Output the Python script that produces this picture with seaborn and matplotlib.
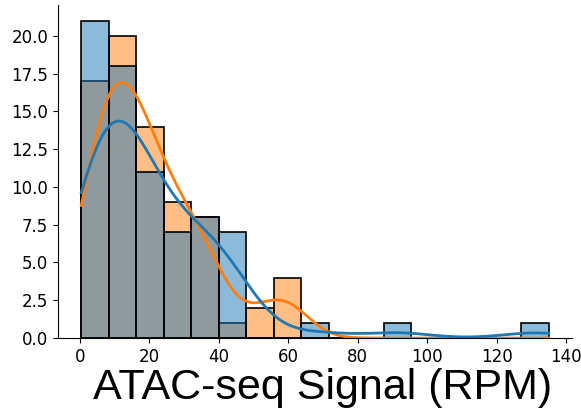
import numpy as np
import pandas as pd
import matplotlib
matplotlib.use("Agg")
import matplotlib.pyplot as plt
import seaborn as sns

# Bin layout: 17 equal bins from ~0.4 to ~135
bin_lo, bin_hi, n_bins = 0.4, 135.0, 17
# Counts per bin for the two groups
counts_a = [21, 18, 11, 7, 8, 7, 0, 0, 1, 0, 0, 1, 0, 0, 0, 0, 1]   # blue
counts_b = [17, 20, 14, 9, 8, 1, 2, 4, 0, 0, 0, 0, 0, 0, 0, 0, 0]   # orange
group_names = ["A", "B"]
xlabel = "ATAC-seq Signal (RPM)"

edges = np.linspace(bin_lo, bin_hi, n_bins + 1)
centers = (edges[:-1] + edges[1:]) / 2
xa = np.repeat(centers, counts_a)
xb = np.repeat(centers, counts_b)
df = pd.DataFrame({
    "x": np.concatenate([xa, xb]),
    "g": [group_names[0]] * len(xa) + [group_names[1]] * len(xb),
})

fig = plt.figure(figsize=(5.81, 4.15), dpi=100)
ax = fig.add_axes([0.0998, 0.1855, 0.8847, 0.8025])
sns.histplot(data=df, x="x", hue="g", hue_order=group_names,
             bins=n_bins, binrange=(bin_lo, bin_hi), kde=True, legend=False, ax=ax,
             edgecolor="black", linewidth=1.2,
             kde_kws={"cut": 3, "clip": (bin_lo, bin_hi), "bw_adjust": 1.06},
             line_kws={"linewidth": 2})
sns.despine(ax=ax)
ax.set_ylabel("")
ax.set_xlabel(xlabel, fontsize=31, family="Liberation Sans")
ax.xaxis.set_label_coords(0.5146, -0.09, transform=ax.transAxes)
ax.xaxis.label.set_va("top")
ax.set_xlim(-6.3, 141.7)
ax.set_xticks(np.arange(0, 141, 20))
ax.set_yticks(np.arange(0, 20.1, 2.5))
ax.tick_params(labelsize=12)
fig.savefig("out.png", dpi=100)
